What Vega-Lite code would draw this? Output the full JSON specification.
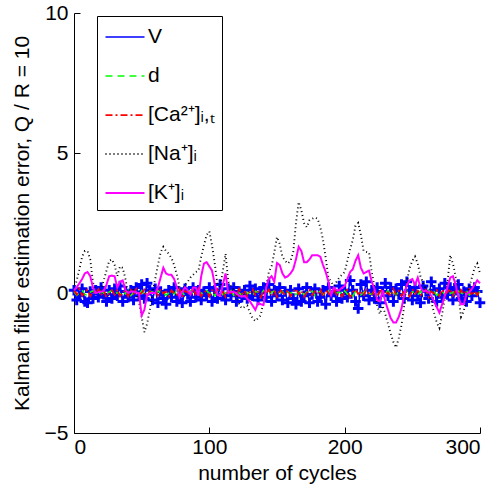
{
"$schema": "https://vega.github.io/schema/vega-lite/v6.json",
"width": 406, "height": 420,
"autosize": {"type": "none"},
"padding": {"left": 74, "top": 13, "right": 20, "bottom": 52},
"background": "white",
"config": {
  "view": {"stroke": null},
  "font": "Liberation Sans",
  "axis": {"domainColor": "black", "domainWidth": 1, "tickColor": "black", "labelColor": "black", "titleColor": "black", "labelFontSize": 21, "titleFontSize": 21, "titleFontWeight": "normal", "grid": false, "tickSize": -6, "labelFont": "Liberation Sans", "titleFont": "Liberation Sans"}
},
"data": {"values": [
{"x":0,"V":0.1,"d":0.05,"Ca":0.1,"Na":0.1,"K":0.1},
{"x":2,"V":-0.25,"d":-0.08,"Ca":-0.05,"Na":0.45,"K":0.2},
{"x":4,"V":-0.1,"d":0.0,"Ca":0.15,"Na":0.85,"K":0.35},
{"x":6,"V":0.15,"d":0.1,"Ca":-0.1,"Na":1.3,"K":0.5},
{"x":8,"V":-0.3,"d":-0.05,"Ca":0.02,"Na":1.5,"K":0.7},
{"x":10,"V":-0.35,"d":-0.1,"Ca":0.12,"Na":1.5,"K":0.75},
{"x":12,"V":0.05,"d":0.03,"Ca":-0.12,"Na":1.2,"K":0.6},
{"x":14,"V":-0.2,"d":0.08,"Ca":0.05,"Na":0.4,"K":0.2},
{"x":16,"V":0.1,"d":-0.02,"Ca":-0.02,"Na":0.0,"K":0.0},
{"x":18,"V":-0.15,"d":-0.07,"Ca":0.14,"Na":0.05,"K":0.03},
{"x":20,"V":0.2,"d":0.06,"Ca":-0.08,"Na":0.1,"K":0.05},
{"x":22,"V":-0.05,"d":0.0,"Ca":0.08,"Na":0.45,"K":0.08},
{"x":24,"V":-0.3,"d":-0.1,"Ca":-0.15,"Na":0.8,"K":0.3},
{"x":26,"V":0.1,"d":0.04,"Ca":0.0,"Na":1.15,"K":0.6},
{"x":28,"V":-0.2,"d":0.09,"Ca":0.1,"Na":1.2,"K":0.62},
{"x":30,"V":0.15,"d":-0.04,"Ca":-0.06,"Na":1.0,"K":0.6},
{"x":32,"V":-0.1,"d":0.02,"Ca":0.13,"Na":0.6,"K":0.2},
{"x":34,"V":0.25,"d":-0.06,"Ca":-0.11,"Na":0.95,"K":0.4},
{"x":36,"V":-0.3,"d":0.07,"Ca":0.04,"Na":0.9,"K":0.45},
{"x":38,"V":0.05,"d":-0.03,"Ca":0.07,"Na":0.5,"K":0.1},
{"x":40,"V":-0.15,"d":0.1,"Ca":-0.13,"Na":0.0,"K":0.0},
{"x":42,"V":0.1,"d":-0.09,"Ca":0.11,"Na":0.05,"K":0.05},
{"x":44,"V":-0.25,"d":0.01,"Ca":-0.03,"Na":0.1,"K":0.05},
{"x":46,"V":0.2,"d":0.05,"Ca":0.15,"Na":0.0,"K":0.02},
{"x":48,"V":-0.1,"d":-0.05,"Ca":-0.09,"Na":-0.3,"K":0.0},
{"x":50,"V":0.3,"d":0.08,"Ca":0.01,"Na":-0.85,"K":-0.8},
{"x":52,"V":-0.2,"d":-0.02,"Ca":0.12,"Na":-1.4,"K":-0.6},
{"x":54,"V":0.35,"d":-0.1,"Ca":-0.14,"Na":-1.1,"K":-0.07},
{"x":56,"V":0.1,"d":0.06,"Ca":0.06,"Na":-0.6,"K":0.0},
{"x":58,"V":-0.25,"d":0.03,"Ca":-0.04,"Na":0.0,"K":0.0},
{"x":60,"V":0.15,"d":-0.07,"Ca":0.09,"Na":0.5,"K":0.0},
{"x":62,"V":-0.35,"d":0.09,"Ca":-0.1,"Na":1.0,"K":0.2},
{"x":64,"V":0.05,"d":-0.01,"Ca":0.14,"Na":1.45,"K":0.55},
{"x":66,"V":-0.2,"d":0.04,"Ca":-0.02,"Na":1.65,"K":0.9},
{"x":68,"V":-0.4,"d":-0.08,"Ca":0.05,"Na":1.5,"K":0.7},
{"x":70,"V":0.1,"d":0.0,"Ca":-0.12,"Na":1.4,"K":0.65},
{"x":72,"V":-0.15,"d":0.07,"Ca":0.1,"Na":1.25,"K":0.65},
{"x":74,"V":0.2,"d":-0.04,"Ca":0.0,"Na":1.0,"K":0.5},
{"x":76,"V":-0.3,"d":0.1,"Ca":-0.07,"Na":0.65,"K":0.2},
{"x":78,"V":-0.1,"d":-0.06,"Ca":0.13,"Na":0.2,"K":-0.15},
{"x":80,"V":-0.35,"d":0.02,"Ca":-0.15,"Na":0.1,"K":0.05},
{"x":82,"V":0.15,"d":-0.09,"Ca":0.07,"Na":0.3,"K":0.2},
{"x":84,"V":-0.05,"d":0.05,"Ca":0.03,"Na":0.4,"K":0.1},
{"x":86,"V":-0.3,"d":0.08,"Ca":-0.09,"Na":0.55,"K":-0.05},
{"x":88,"V":0.2,"d":-0.03,"Ca":0.12,"Na":0.65,"K":0.2},
{"x":90,"V":-0.15,"d":-0.07,"Ca":-0.05,"Na":0.75,"K":0.2},
{"x":92,"V":0.1,"d":0.04,"Ca":0.15,"Na":0.8,"K":-0.1},
{"x":94,"V":-0.25,"d":0.0,"Ca":-0.11,"Na":1.3,"K":0.6},
{"x":96,"V":0.05,"d":-0.05,"Ca":0.02,"Na":1.7,"K":1.05},
{"x":98,"V":-0.1,"d":0.09,"Ca":0.08,"Na":2.07,"K":1.1},
{"x":100,"V":0.2,"d":-0.02,"Ca":-0.13,"Na":2.2,"K":0.95},
{"x":102,"V":-0.3,"d":0.06,"Ca":0.1,"Na":1.7,"K":0.8},
{"x":104,"V":0.1,"d":-0.1,"Ca":-0.01,"Na":1.05,"K":0.3},
{"x":106,"V":-0.2,"d":0.03,"Ca":0.14,"Na":0.3,"K":-0.07},
{"x":108,"V":0.3,"d":0.07,"Ca":-0.08,"Na":0.2,"K":-0.1},
{"x":110,"V":-0.05,"d":-0.06,"Ca":0.04,"Na":0.8,"K":0.3},
{"x":112,"V":-0.25,"d":0.01,"Ca":-0.14,"Na":1.4,"K":0.7},
{"x":114,"V":0.15,"d":-0.04,"Ca":0.11,"Na":0.4,"K":0.0},
{"x":116,"V":-0.1,"d":0.08,"Ca":0.0,"Na":0.25,"K":0.05},
{"x":118,"V":0.2,"d":-0.08,"Ca":0.06,"Na":0.12,"K":0.03},
{"x":120,"V":-0.3,"d":0.05,"Ca":-0.1,"Na":-0.05,"K":0.0},
{"x":122,"V":0.05,"d":0.0,"Ca":0.15,"Na":-0.4,"K":-0.1},
{"x":124,"V":-0.15,"d":-0.07,"Ca":-0.04,"Na":-0.55,"K":-0.13},
{"x":126,"V":0.1,"d":0.1,"Ca":0.09,"Na":-0.5,"K":-0.1},
{"x":128,"V":-0.2,"d":-0.03,"Ca":-0.12,"Na":-0.45,"K":-0.2},
{"x":130,"V":0.25,"d":0.04,"Ca":0.03,"Na":-0.7,"K":-0.3},
{"x":132,"V":-0.1,"d":-0.09,"Ca":0.13,"Na":-0.9,"K":-0.45},
{"x":134,"V":0.15,"d":0.06,"Ca":-0.07,"Na":-1.0,"K":-0.6},
{"x":136,"V":-0.25,"d":0.02,"Ca":0.05,"Na":-0.9,"K":-0.36},
{"x":138,"V":0.0,"d":-0.05,"Ca":-0.15,"Na":-0.8,"K":-0.4},
{"x":140,"V":0.2,"d":0.09,"Ca":0.1,"Na":-0.3,"K":-0.43},
{"x":142,"V":-0.15,"d":-0.01,"Ca":-0.02,"Na":0.25,"K":0.2},
{"x":144,"V":0.3,"d":-0.08,"Ca":0.12,"Na":0.75,"K":0.5},
{"x":146,"V":-0.3,"d":0.03,"Ca":-0.09,"Na":0.95,"K":0.6},
{"x":148,"V":0.1,"d":0.07,"Ca":0.07,"Na":1.45,"K":0.4},
{"x":150,"V":-0.1,"d":-0.04,"Ca":-0.13,"Na":2.0,"K":1.07},
{"x":152,"V":0.2,"d":0.0,"Ca":0.14,"Na":1.75,"K":1.0},
{"x":154,"V":-0.25,"d":0.06,"Ca":0.01,"Na":1.3,"K":0.7},
{"x":156,"V":0.05,"d":-0.1,"Ca":-0.06,"Na":1.15,"K":0.55},
{"x":158,"V":-0.35,"d":0.05,"Ca":0.11,"Na":1.05,"K":0.6},
{"x":160,"V":0.1,"d":-0.02,"Ca":-0.11,"Na":1.15,"K":0.7},
{"x":162,"V":-0.2,"d":0.08,"Ca":0.04,"Na":1.45,"K":0.85},
{"x":164,"V":-0.4,"d":-0.06,"Ca":0.15,"Na":2.5,"K":1.2},
{"x":166,"V":0.15,"d":0.01,"Ca":-0.05,"Na":3.25,"K":1.65},
{"x":168,"V":-0.3,"d":0.1,"Ca":0.08,"Na":2.95,"K":1.5},
{"x":170,"V":-0.1,"d":-0.07,"Ca":-0.14,"Na":2.5,"K":1.1},
{"x":172,"V":0.2,"d":0.04,"Ca":0.02,"Na":2.35,"K":1.1},
{"x":174,"V":-0.35,"d":-0.03,"Ca":0.12,"Na":2.6,"K":1.2},
{"x":176,"V":-0.05,"d":0.07,"Ca":-0.08,"Na":2.65,"K":1.35},
{"x":178,"V":0.15,"d":-0.09,"Ca":0.06,"Na":2.7,"K":1.35},
{"x":180,"V":-0.3,"d":0.02,"Ca":-0.03,"Na":2.65,"K":1.35},
{"x":182,"V":-0.15,"d":0.06,"Ca":0.13,"Na":2.35,"K":1.3},
{"x":184,"V":0.1,"d":-0.05,"Ca":-0.12,"Na":1.9,"K":1.0},
{"x":186,"V":-0.4,"d":0.0,"Ca":0.1,"Na":1.25,"K":0.75},
{"x":188,"V":0.2,"d":0.09,"Ca":0.0,"Na":0.55,"K":0.4},
{"x":190,"V":-0.1,"d":-0.08,"Ca":-0.1,"Na":0.4,"K":-0.07},
{"x":192,"V":0.05,"d":0.03,"Ca":0.15,"Na":0.25,"K":0.2},
{"x":194,"V":-0.3,"d":-0.01,"Ca":-0.06,"Na":0.4,"K":0.1},
{"x":196,"V":0.25,"d":0.05,"Ca":0.09,"Na":0.55,"K":0.1},
{"x":198,"V":-0.2,"d":-0.06,"Ca":-0.13,"Na":0.65,"K":0.18},
{"x":200,"V":0.1,"d":0.08,"Ca":0.05,"Na":0.75,"K":0.25},
{"x":202,"V":-0.15,"d":-0.04,"Ca":0.11,"Na":1.15,"K":0.5},
{"x":204,"V":0.45,"d":0.01,"Ca":-0.15,"Na":1.55,"K":0.75},
{"x":206,"V":0.1,"d":-0.1,"Ca":0.03,"Na":1.9,"K":0.85},
{"x":208,"V":-0.3,"d":0.06,"Ca":0.14,"Na":2.4,"K":1.15},
{"x":210,"V":-0.55,"d":0.04,"Ca":-0.04,"Na":2.5,"K":1.35},
{"x":212,"V":0.3,"d":-0.07,"Ca":0.07,"Na":2.07,"K":0.9},
{"x":214,"V":-0.1,"d":0.02,"Ca":-0.11,"Na":1.5,"K":0.7},
{"x":216,"V":0.4,"d":0.1,"Ca":0.12,"Na":1.47,"K":0.75},
{"x":218,"V":-0.25,"d":-0.03,"Ca":-0.01,"Na":1.45,"K":0.8},
{"x":220,"V":0.1,"d":-0.05,"Ca":-0.09,"Na":0.75,"K":0.4},
{"x":222,"V":-0.2,"d":0.07,"Ca":0.1,"Na":0.25,"K":0.15},
{"x":224,"V":0.2,"d":-0.09,"Ca":-0.14,"Na":-0.45,"K":-0.25},
{"x":226,"V":-0.35,"d":0.0,"Ca":0.06,"Na":-0.75,"K":-0.3},
{"x":228,"V":0.05,"d":0.05,"Ca":0.13,"Na":-0.45,"K":0.1},
{"x":230,"V":0.35,"d":-0.02,"Ca":-0.07,"Na":-0.75,"K":-0.3},
{"x":232,"V":-0.1,"d":0.09,"Ca":0.02,"Na":-1.1,"K":-0.6},
{"x":234,"V":0.2,"d":-0.06,"Ca":-0.12,"Na":-1.45,"K":-0.9},
{"x":236,"V":-0.3,"d":0.03,"Ca":0.15,"Na":-1.75,"K":-1.05},
{"x":238,"V":0.15,"d":-0.08,"Ca":-0.05,"Na":-1.95,"K":-1.05},
{"x":240,"V":-0.05,"d":0.06,"Ca":0.08,"Na":-1.6,"K":-0.85},
{"x":242,"V":0.3,"d":0.01,"Ca":-0.1,"Na":-1.15,"K":-0.55},
{"x":244,"V":-0.2,"d":-0.04,"Ca":0.11,"Na":-0.45,"K":-0.07},
{"x":246,"V":0.4,"d":0.08,"Ca":0.0,"Na":0.4,"K":0.3},
{"x":248,"V":0.1,"d":-0.1,"Ca":-0.13,"Na":0.9,"K":0.45},
{"x":250,"V":-0.25,"d":0.04,"Ca":0.14,"Na":1.15,"K":0.5},
{"x":252,"V":0.2,"d":0.02,"Ca":-0.03,"Na":1.3,"K":0.3},
{"x":254,"V":-0.1,"d":-0.07,"Ca":0.09,"Na":1.05,"K":0.55},
{"x":256,"V":-0.35,"d":0.07,"Ca":-0.08,"Na":0.6,"K":0.2},
{"x":258,"V":0.25,"d":-0.01,"Ca":0.04,"Na":0.35,"K":0.05},
{"x":260,"V":0.05,"d":-0.05,"Ca":0.12,"Na":0.15,"K":0.08},
{"x":262,"V":-0.2,"d":0.1,"Ca":-0.15,"Na":0.0,"K":0.05},
{"x":264,"V":0.4,"d":-0.03,"Ca":0.06,"Na":-0.3,"K":-0.1},
{"x":266,"V":0.1,"d":0.05,"Ca":-0.02,"Na":-0.7,"K":-0.3},
{"x":268,"V":-0.3,"d":-0.08,"Ca":0.1,"Na":-1.05,"K":-0.5},
{"x":270,"V":0.15,"d":0.0,"Ca":-0.11,"Na":-1.25,"K":-0.7},
{"x":272,"V":-0.15,"d":0.06,"Ca":0.13,"Na":-0.75,"K":-0.4},
{"x":274,"V":0.35,"d":-0.06,"Ca":-0.06,"Na":-0.2,"K":-0.1},
{"x":276,"V":-0.05,"d":0.09,"Ca":0.03,"Na":0.4,"K":0.2},
{"x":278,"V":0.2,"d":-0.02,"Ca":0.15,"Na":1.35,"K":0.55},
{"x":280,"V":-0.25,"d":0.03,"Ca":-0.09,"Na":1.05,"K":0.6},
{"x":282,"V":0.1,"d":-0.09,"Ca":0.07,"Na":0.6,"K":0.3},
{"x":284,"V":0.3,"d":0.07,"Ca":-0.12,"Na":-0.1,"K":-0.15},
{"x":286,"V":-0.2,"d":0.01,"Ca":0.11,"Na":-0.85,"K":-0.4},
{"x":288,"V":0.05,"d":-0.04,"Ca":-0.04,"Na":-0.65,"K":-0.4},
{"x":290,"V":-0.3,"d":0.08,"Ca":0.05,"Na":-0.15,"K":-0.05},
{"x":292,"V":0.15,"d":-0.07,"Ca":0.14,"Na":0.2,"K":0.03},
{"x":294,"V":-0.1,"d":0.04,"Ca":-0.1,"Na":0.55,"K":0.15},
{"x":296,"V":0.2,"d":0.0,"Ca":0.08,"Na":0.9,"K":0.3},
{"x":298,"V":0.05,"d":-0.05,"Ca":-0.07,"Na":1.05,"K":0.45},
{"x":300,"V":-0.35,"d":0.06,"Ca":0.1,"Na":0.7,"K":0.35}
]},
"transform": [{"fold": ["V", "d", "Ca", "Na", "K"], "as": ["series", "value"]}],
"encoding": {
  "x": {"field": "x", "type": "quantitative", "scale": {"domain": [0, 300], "nice": false}, "axis": {"values": [0, 100, 200, 300], "title": "number of cycles", "labelPadding": 9, "titlePadding": 5}},
  "y": {"field": "value", "type": "quantitative", "scale": {"domain": [-5, 10], "nice": false}, "axis": {"values": [-5, 0, 5, 10], "title": "Kalman filter estimation error, Q / R = 10", "labelPadding": 12, "titlePadding": 12}}
},
"layer": [
  {
    "transform": [{"filter": "datum.series === 'V'"}],
    "mark": {"type": "line"},
    "encoding": {
      "color": {"field": "series", "type": "nominal", "scale": {"domain": ["V", "d", "Ca", "Na", "K"], "range": ["#0000ff", "#00ff00", "#ff0000", "#000000", "#ff00ff"]},
        "legend": {"title": null, "orient": "none", "legendX": 23, "legendY": 3, "symbolType": "M-1.5,0H1.5", "symbolSize": 676, "symbolOffset": 7, "labelFontSize": 21, "labelFont": "Liberation Sans", "labelColor": "black", "strokeColor": "black", "fillColor": "white", "padding": 7, "rowPadding": 15, "labelOffset": 9,
          "labelExpr": "datum.label === 'Ca' ? '[Ca²⁺]ᵢ,ₜ' : datum.label === 'Na' ? '[Na⁺]ᵢ' : datum.label === 'K' ? '[K⁺]ᵢ' : datum.label"}},
      "strokeDash": {"field": "series", "type": "nominal", "scale": {"domain": ["V", "d", "Ca", "Na", "K"], "range": [[1, 0], [7, 5], [7, 3, 2, 3], [1, 3], [1, 0]]}},
      "strokeWidth": {"field": "series", "type": "nominal", "scale": {"domain": ["V", "d", "Ca", "Na", "K"], "range": [1.5, 2, 2, 1, 3]}}
    }
  },
  {
    "transform": [{"filter": "datum.series === 'V'"}],
    "mark": {"type": "point", "shape": "M-1,0H1M0,-1V1", "filled": false, "stroke": "#0000ff", "strokeWidth": 3, "size": 110, "opacity": 1}
  },
  {
    "transform": [{"filter": "datum.series !== 'V'"}],
    "mark": {"type": "line"},
    "encoding": {
      "color": {"field": "series", "type": "nominal", "scale": {"domain": ["V", "d", "Ca", "Na", "K"], "range": ["#0000ff", "#00ff00", "#ff0000", "#000000", "#ff00ff"]}},
      "strokeDash": {"field": "series", "type": "nominal", "scale": {"domain": ["V", "d", "Ca", "Na", "K"], "range": [[1, 0], [7, 5], [7, 3, 2, 3], [1, 3], [1, 0]]}},
      "strokeWidth": {"field": "series", "type": "nominal", "scale": {"domain": ["V", "d", "Ca", "Na", "K"], "range": [1.5, 2, 2, 1, 3]}}
    }
  }
]
}
